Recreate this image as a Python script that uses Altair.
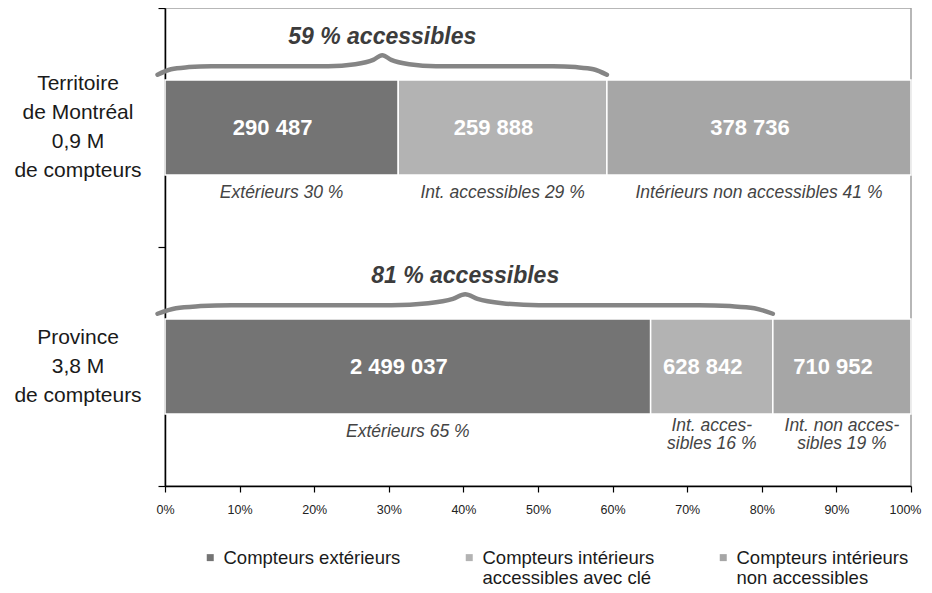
import altair as alt
import pandas as pd

# ---- data ----
regions = ["Territoire de Montréal", "Province"]
region_labels = ["Territoire\nde Montréal\n0,9 M\nde compteurs", "Province\n3,8 M\nde compteurs"]
series = ["Compteurs extérieurs",
          "Compteurs intérieurs\naccessibles avec clé",
          "Compteurs intérieurs\nnon accessibles"]
colors = ["#747474", "#b3b3b3", "#a6a6a6"]
montreal_counts = [290487, 259888, 378736]
province_counts = [2499037, 628842, 710952]
montreal_pct_labels = ["Extérieurs 30 %", "Int. accessibles 29 %", "Intérieurs non accessibles 41 %"]
province_pct_labels = ["Extérieurs 65 %", "Int. acces-\nsibles 16 %", "Int. non acces-\nsibles 19 %"]
accessible_titles = ["59 % accessibles", "81 % accessibles"]
x_ticks = [0, 0.1, 0.2, 0.3, 0.4, 0.5, 0.6, 0.7, 0.8, 0.9, 1.0]

# brace template (relative shape: t along the span, v offset from bar top in band units)
brace_t = [0, 0.03, 0.07, 0.12, 0.38, 0.44, 0.48, 0.5, 0.52, 0.56, 0.62, 0.88, 0.93, 0.97, 1]
brace_v = [-0.022, -0.045, -0.054, -0.058, -0.058, -0.066, -0.084, -0.104,
           -0.084, -0.066, -0.058, -0.058, -0.054, -0.045, -0.022]

PLOT_H = 478
BAND_PX = PLOT_H / 2
HALF = 0.1987          # half bar thickness in band units
LEFT_LH = 29           # line height of the category labels (px)
PCT_LH = 18            # line height of the percentage labels (px)

rows = []
for ri, (reg, counts, pl) in enumerate(zip(regions, [montreal_counts, province_counts],
                                            [montreal_pct_labels, province_pct_labels])):
    for si, (s, c, p) in enumerate(zip(series, counts, pl)):
        n = p.count("\n") + 1
        rows.append({"region": reg, "ridx": ri, "series": s, "order": si, "count": c,
                     "numlabel": f"{c:,}".replace(",", " "), "pctlabel": p,
                     "ylab": ri + 0.5 + HALF + 0.075 - (n - 1) * 6 / BAND_PX})
df = pd.DataFrame(rows)

brace_rows, title_rows = [], []
for ri, (reg, counts, ttl) in enumerate(zip(regions, [montreal_counts, province_counts], accessible_titles)):
    frac = (counts[0] + counts[1]) / sum(counts)
    start = -0.01
    top = ri + 0.5 - HALF
    for t, v in zip(brace_t, brace_v):
        brace_rows.append({"region": reg, "t": t, "bx": start + t * (frac - start), "by": top + v})
    title_rows.append({"region": reg, "tx": (start + frac) / 2, "ty": top - 0.18, "title": ttl})
brace_df = pd.DataFrame(brace_rows)
title_df = pd.DataFrame(title_rows)
region_df = pd.DataFrame({
    "region": regions, "label": region_labels,
    "yfirst": [ri + 0.5 - (lab.count("\n")) / 2 * LEFT_LH / BAND_PX for ri, lab in enumerate(region_labels)],
})

FONT = "Liberation Sans"

xscale = alt.Scale(domain=[0, 1], nice=False, zero=True)
yscale = alt.Scale(domain=[0, 2], reverse=True, nice=False)

xaxis = alt.Axis(values=x_ticks, format=".0%", labelFlush=False, tickSize=6, labelPadding=11,
                 grid=False, title=None, labelFont=FONT, labelFontSize=12.5, labelColor="#222222",
                 labelOffset={"condition": {"test": "datum.value == 1", "value": -6}, "value": 0},
                 domainColor="#000000", tickColor="#000000", domainWidth=1.5, tickWidth=1.2)
yaxis = alt.Axis(values=[0, 1, 2], labels=False, ticks=True, tickSize=7, grid=False, title=None,
                 domainColor="#000000", tickColor="#000000", domainWidth=1.5, tickWidth=1.2)

base = alt.Chart(df).transform_stack(
    stack="count", groupby=["region"], sort=[alt.SortField("order")],
    as_=["x0", "x1"], offset="normalize"
).transform_calculate(
    ytop=f"datum.ridx + 0.5 - {HALF}",
    ybot=f"datum.ridx + 0.5 + {HALF}",
    ymid="datum.ridx + 0.5",
    xm="(datum.x0 + datum.x1) / 2",
)

legend = alt.Legend(
    orient="none", legendX=36, legendY=540, direction="horizontal",
    columns=3, symbolType="square", symbolSize=49, symbolStrokeWidth=0,
    labelFont=FONT, labelFontSize=18.5, labelColor="#1a1a1a",
    labelExpr="indexof(datum.label, '\\n') < 0 ? [datum.label, ''] : split(datum.label, '\\n')",
    columnPadding=59, title=None, labelBaseline="middle",
    labelOffset=4, padding=0, labelLimit=0)

bars = base.mark_rect(stroke="white", strokeWidth=1.5).encode(
    x=alt.X("x0:Q", scale=xscale, axis=xaxis),
    x2="x1:Q",
    y=alt.Y("ytop:Q", scale=yscale, axis=yaxis),
    y2="ybot:Q",
    color=alt.Color("series:N", scale=alt.Scale(domain=series, range=colors), legend=legend),
    order=alt.Order("order:Q"),
)

nums = base.mark_text(color="white", font=FONT, fontWeight="bold", fontSize=22, dx=-9,
                      baseline="middle").encode(
    x=alt.X("xm:Q"), y=alt.Y("ymid:Q"), text="numlabel:N")

pcts = base.mark_text(color="#444444", font=FONT, fontStyle="italic", fontSize=17.5, lineBreak="\n",
                      lineHeight=PCT_LH, baseline="middle").encode(
    x=alt.X("xm:Q"), y=alt.Y("ylab:Q"), text="pctlabel:N")

braces = alt.Chart(brace_df).mark_line(interpolate="monotone", strokeWidth=4.5, strokeCap="round",
                                       color="#858585").encode(
    x=alt.X("bx:Q"), y=alt.Y("by:Q"), detail="region:N", order="t:Q")

titles = alt.Chart(title_df).mark_text(color="#3c3c3c", font=FONT, fontStyle="italic",
                                       fontWeight="bold", fontSize=23, baseline="middle").encode(
    x=alt.X("tx:Q"), y=alt.Y("ty:Q"), text="title:N")

left = alt.Chart(region_df).mark_text(color="#1a1a1a", font=FONT, fontSize=21, lineBreak="\n",
                                      lineHeight=LEFT_LH, align="center", baseline="middle").encode(
    x=alt.value(-87), y=alt.Y("yfirst:Q"), text="label:N")

chart = alt.layer(bars, nums, pcts, braces, titles, left).properties(
    width=746, height=PLOT_H,
    autosize=alt.AutoSizeParams(type="none"),
    padding={"left": 157, "top": 0, "right": 13, "bottom": 106},
).configure_view(stroke="#a0a0a0", strokeWidth=1.5)

chart.save("out.html", embed_options={"renderer": "svg", "actions": False})
